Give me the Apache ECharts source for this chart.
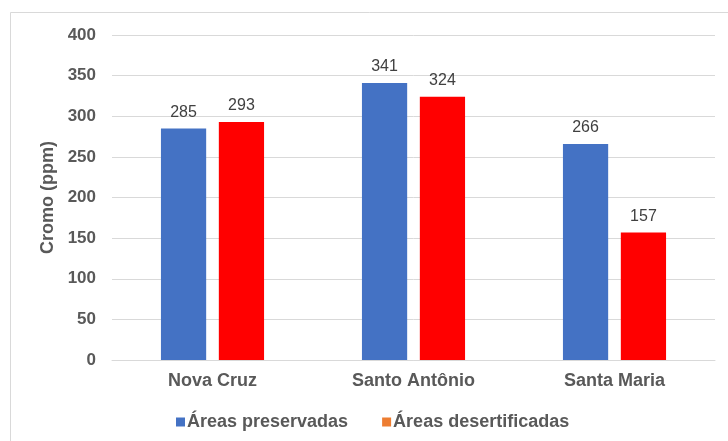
<!DOCTYPE html>
<html><head><meta charset="utf-8">
<script src="https://cdn.jsdelivr.net/npm/echarts@6/dist/echarts.min.js"></script>
<style>html,body{margin:0;padding:0;background:#fff}#c{width:728px;height:441px}</style>
</head><body><div id="c"></div>
<script>
var categories = ['Nova Cruz', 'Santo Antônio', 'Santa Maria'];
var preservadas = [285, 341, 266];
var desertificadas = [293, 324, 157];
var seriesNames = ['Áreas preservadas', 'Áreas desertificadas'];
var yTicks = {min: 0, max: 400, interval: 50};

var chart = echarts.init(document.getElementById('c'), null, {renderer: 'canvas'});
var font = 'Liberation Sans, Arial, sans-serif';
chart.setOption({
  animation: false,
  backgroundColor: '#fff',
  graphic: [{
    type: 'rect', shape: {x: 10.5, y: 12.5, width: 730, height: 440},
    style: {fill: 'none', stroke: '#D9D9D9', lineWidth: 1}, silent: true
  }],
  grid: {left: 112, right: 13, top: 35, bottom: 81, containLabel: false},
  legend: {
    bottom: 10, left: 176, padding: 0, itemWidth: 9, itemHeight: 9, itemGap: 34,
    icon: 'rect',
    textStyle: {fontFamily: font, fontSize: 18, fontWeight: 'bold', color: '#595959', padding: [0,0,0,-3]},
    data: [{name: seriesNames[0], itemStyle: {color: '#4472C4'}},
           {name: seriesNames[1], itemStyle: {color: '#ED7D31'}}]
  },
  xAxis: {
    type: 'category', data: categories,
    axisLine: {lineStyle: {color: '#D9D9D9'}},
    axisTick: {show: false},
    axisLabel: {fontFamily: font, fontSize: 18, fontWeight: 'bold', color: '#595959', margin: 12}
  },
  yAxis: {
    type: 'value', min: yTicks.min, max: yTicks.max, interval: yTicks.interval,
    name: 'Cromo (ppm)', nameLocation: 'middle', nameGap: 54, nameRotate: 90,
    nameTextStyle: {fontFamily: font, fontSize: 18, fontWeight: 'bold', color: '#595959'},
    axisLine: {show: false}, axisTick: {show: false},
    splitLine: {lineStyle: {color: '#D9D9D9'}},
    axisLabel: {fontFamily: font, fontSize: 17, fontWeight: 'bold', color: '#595959', margin: 16}
  },
  series: [{
    name: seriesNames[0], type: 'bar', data: preservadas,
    barWidth: '22.5%', barGap: '28%',
    itemStyle: {color: '#4472C4'},
    label: {show: true, position: 'top', distance: 8, fontFamily: font, fontSize: 16, color: '#404040'}
  }, {
    name: seriesNames[1], type: 'bar', data: desertificadas,
    barWidth: '22.5%', barGap: '28%',
    itemStyle: {color: '#FF0000'},
    label: {show: true, position: 'top', distance: 8, fontFamily: font, fontSize: 16, color: '#404040'}
  }]
});
</script></body></html>
